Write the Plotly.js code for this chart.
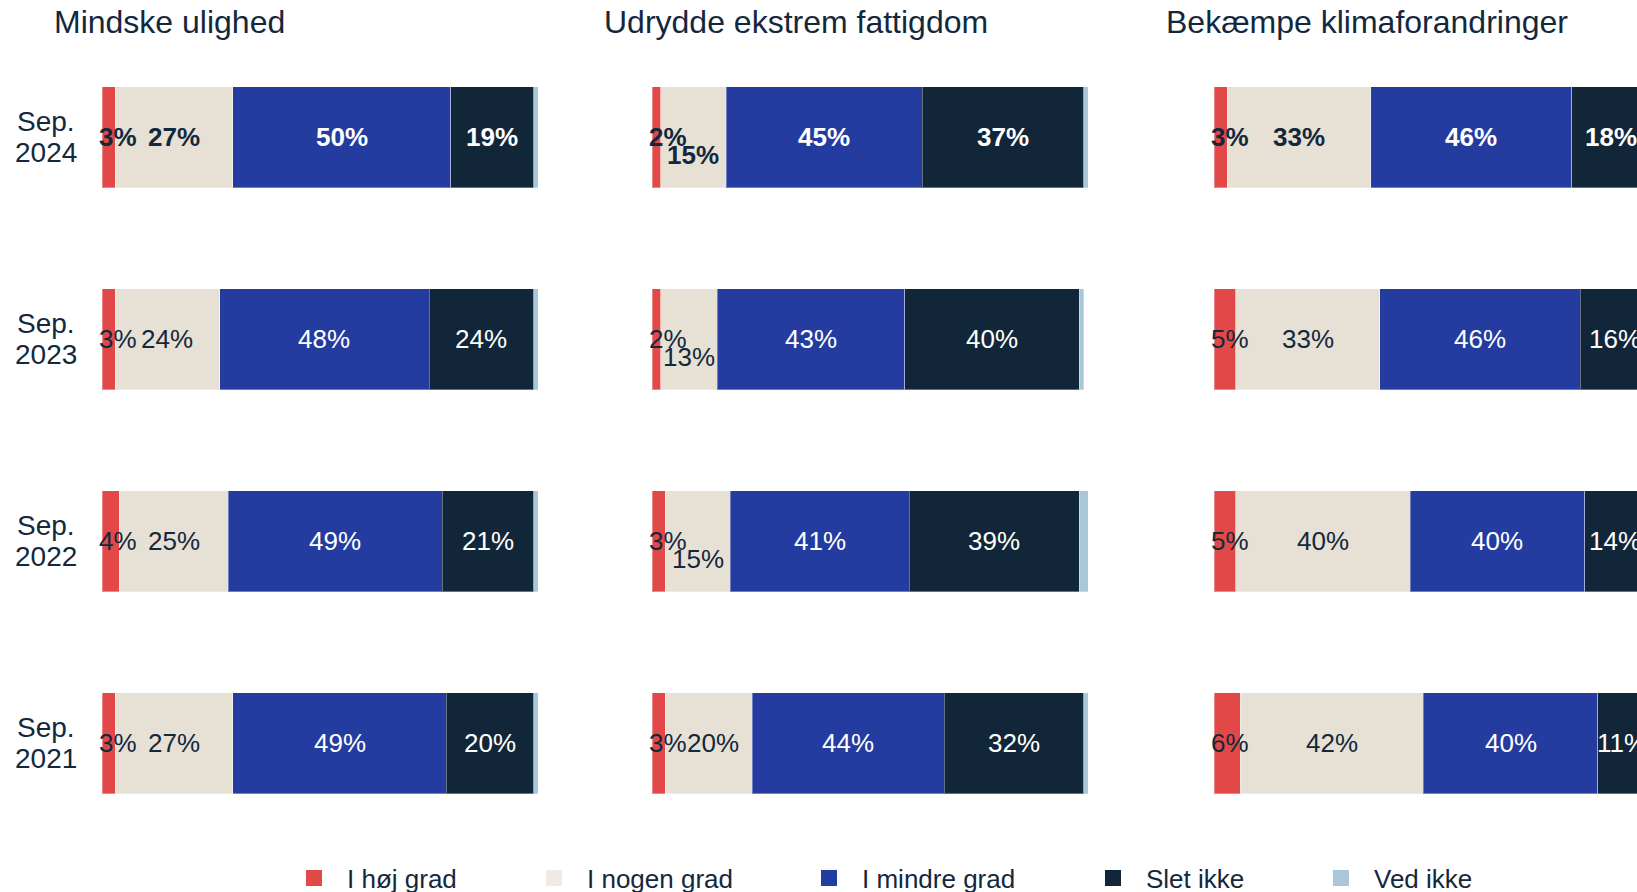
<!DOCTYPE html>
<html>
<head>
<meta charset="utf-8">
<script src="https://cdn.plot.ly/plotly-3.0.1.min.js"></script>
<style>
  html, body { margin: 0; padding: 0; background: #fff; }
  #chart { width: 1637px; height: 892px; }
</style>
</head>
<body>
<div id="chart"></div>
<script>
// Survey shares per goal, one measurement per September
const periods = ['Sep. 2024', 'Sep. 2023', 'Sep. 2022', 'Sep. 2021'];
const panelTitles = ['Mindske ulighed', 'Udrydde ekstrem fattigdom', 'Bekæmpe klimaforandringer'];
const seriesNames = ['I høj grad', 'I nogen grad', 'I mindre grad', 'Slet ikke', 'Ved ikke'];

// one row per panel, one value per period (2024 -> 2021), in percent
const hoejGrad   = [[3, 3, 4, 3],     [2, 2, 3, 3],     [3, 5, 5, 6]];
const nogenGrad  = [[27, 24, 25, 27], [15, 13, 15, 20], [33, 33, 40, 42]];
const mindreGrad = [[50, 48, 49, 49], [45, 43, 41, 44], [46, 46, 40, 40]];
const sletIkke   = [[19, 24, 21, 20], [37, 40, 39, 32], [18, 16, 14, 11]];
const vedIkke    = [[1, 1, 1, 1],     [1, 1, 2, 1],     [0, 0, 1, 1]];

const seriesValues = [hoejGrad, nogenGrad, mindreGrad, sletIkke, vedIkke];

// styling
const colors = ['#e24848', '#e7e0d4', '#243ca0', '#12263a', '#a8c7d9'];
const legendColors = ['#e24848', '#efebe4', '#243ca0', '#12263a', '#a8c7d9'];
const labelColors = ['#13283d', '#13283d', '#ffffff', '#ffffff', null];
const legendWidths = [169, 204, 213, 157, 130];
const DARK = '#13283d';
const FONT = 'Liberation Sans, Arial, sans-serif';

const W = 1637, H = 892;
const xDomains = [[102 / W, 538 / W], [652 / W, 1088 / W], [1214 / W, 1]];
const xRanges = [[0, 100], [0, 100], [0, 97]];
const yDomain = [(H - 844) / H, (H - 36) / H];
const LABEL_SIZE = 26;

function axisId(p) { return p === 0 ? '' : String(p + 1); }

const traces = [];
panelTitles.forEach((title, p) => {
    seriesNames.forEach((name, s) => {
        traces.push({
            type: 'bar',
            orientation: 'h',
            name: name,
            y: periods,
            x: seriesValues[s][p],
            xaxis: 'x' + axisId(p),
            yaxis: 'y',
            marker: { color: colors[s], line: { color: 'rgba(255,255,255,0.35)', width: 1 } },
            legendgroup: name,
            showlegend: false,
            hoverinfo: 'x+name'
        });
    });
});

// legend entries with bigger square swatches
seriesNames.forEach((name, s) => {
    traces.push({
        type: 'scatter',
        mode: 'markers',
        name: name,
        x: [null], y: [null],
        xaxis: 'x', yaxis: 'y',
        marker: { symbol: 'square', size: 18, color: legendColors[s] },
        legendgroup: name,
        legendwidth: legendWidths[s],
        hoverinfo: 'skip'
    });
});

// rough text width for "NN%" labels (Arial metrics)
function labelWidth(text) {
    let w = 0;
    for (const ch of text) w += ch === '%' ? 0.889 : 0.556;
    return w * LABEL_SIZE;
}

const annotations = [];

// period labels, two centred lines
periods.forEach((period, j) => {
    const [month, year] = period.split(' ');
    [[month, 16], [year, -15.5]].forEach(([line, shift]) => {
        annotations.push({
            text: line,
            xref: 'paper', yref: 'y',
            x: 46 / W, y: j,
            xanchor: 'center', yanchor: 'middle',
            yshift: shift,
            showarrow: false,
            font: { family: FONT, size: 28, color: DARK }
        });
    });
});

panelTitles.forEach((title, p) => {
    annotations.push({
        text: title,
        xref: 'paper', yref: 'paper',
        x: xDomains[p][0] - 50 / W, xanchor: 'left',
        y: (H - 22) / H, yanchor: 'middle',
        showarrow: false,
        font: { family: FONT, size: 32, color: DARK }
    });

    const pxPerUnit = (xDomains[p][1] - xDomains[p][0]) * W / (xRanges[p][1] - xRanges[p][0]);

    periods.forEach((period, j) => {
        let cum = 0;
        let prevRight = -Infinity;
        seriesNames.forEach((name, s) => {
            const v = seriesValues[s][p][j];
            const start = cum;
            cum += v;
            if (!labelColors[s]) return;
            const text = v + '%';
            const half = labelWidth(text) / 2;
            let center = (start + v / 2) * pxPerUnit;
            // keep first labels inside the panel
            center = Math.max(center, half - 3);
            let yshift = 0;
            const overlap = prevRight - (center - half);
            if (overlap > 10) yshift = -18;
            else if (overlap > 0) center += overlap;
            prevRight = center + half;
            annotations.push({
                text: text,
                xref: 'x' + axisId(p), yref: 'y',
                x: center / pxPerUnit, y: j,
                xanchor: 'center', yanchor: 'middle',
                yshift: yshift,
                showarrow: false,
                font: { family: FONT, size: LABEL_SIZE, color: labelColors[s], weight: j === 0 ? 'bold' : 'normal' }
            });
        });
    });
});

const layout = {
    width: W, height: H,
    margin: { l: 0, r: 0, t: 0, b: 0, autoexpand: false },
    paper_bgcolor: '#fff',
    plot_bgcolor: '#fff',
    barmode: 'stack',
    bargap: 0.5,
    font: { family: FONT, color: DARK },
    showlegend: true,
    legend: {
        orientation: 'h',
        x: 281 / W, xanchor: 'left',
        y: (H - 878) / H, yanchor: 'middle',
        itemwidth: 56,
        font: { family: FONT, size: 26, color: DARK },
        bgcolor: 'rgba(0,0,0,0)',
        traceorder: 'normal'
    },
    yaxis: {
        type: 'category',
        categoryorder: 'array',
        categoryarray: periods,
        autorange: 'reversed',
        domain: yDomain,
        anchor: 'x',
        ticks: '',
        showticklabels: false,
        showgrid: false, zeroline: false, showline: false,
        automargin: false,
        fixedrange: true
    },
    annotations: annotations
};

panelTitles.forEach((title, p) => {
    layout['xaxis' + axisId(p)] = {
        domain: xDomains[p],
        range: xRanges[p],
        anchor: 'y',
        showgrid: false, zeroline: false, showline: false,
        showticklabels: false, ticks: '',
        automargin: false,
        fixedrange: true
    };
});

Plotly.newPlot('chart', traces, layout, { displayModeBar: false, responsive: false });
</script>
</body>
</html>
